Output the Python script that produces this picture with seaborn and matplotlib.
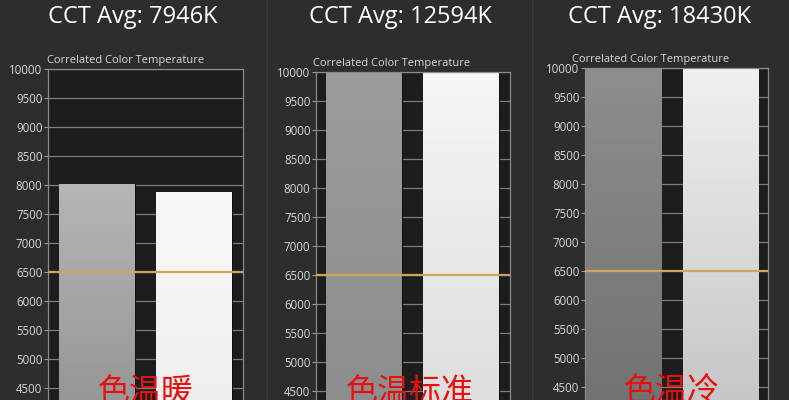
import numpy as np
import pandas as pd
import matplotlib
matplotlib.use("Agg")
import matplotlib.pyplot as plt
import seaborn as sns

# ==========================================
# DATA
# ==========================================

cct_avg = [7946, 12594, 18430]
bar_names = ["A", "B"]
warm_values = [8020, 7872]
standard_values = [12200, 12990]
cool_values = [17800, 19060]
mode_labels = ["色温暖", "色温标准", "色温冷"]
y_ticks = list(range(4500, 10001, 500))
target_cct = 6500

# ==========================================
# STYLE
# ==========================================

sns.set_theme(style="dark")
plt.rcParams["font.family"] = ["Open Sans", "DejaVu Sans"]

W, H = 789, 400
BG = "#2d2d2d"
FACE = "#1d1d1d"
GRID = "#7c7c7c"
TXT = "#d8d8d8"

fig = plt.figure(figsize=(W / 100, H / 100), dpi=100, facecolor=BG)

# pixel layout of each panel: axes left, right, top(10000) / xlim
panels = [
    dict(L=48, R=243, T=69, xlim=(-0.505, 1.505), cap_x=47, title_x=133, lab_x=146,
         grad=[("#b6b6b6", "#8c8c8c"), ("#f8f8f8", "#ececec")]),
    dict(L=316, R=510, T=72, xlim=(-0.495, 1.505), cap_x=313, title_x=400, lab_x=410,
         grad=[("#9c9c9c", "#8a8a8a"), ("#f6f6f6", "#d8d8d8")]),
    dict(L=585, R=768, T=68, xlim=(-0.40, 1.49), cap_x=572, title_x=659, lab_x=672,
         grad=[("#8e8e8e", "#6c6c6c"), ("#f0f0f0", "#bdbdbd")]),
]
all_values = [warm_values, standard_values, cool_values]

px_per_unit = 29 / 500
ymin, ymax = 3000, 10000
ax_h = (ymax - ymin) * px_per_unit

# faint separators between panels
for sx in [267, 533]:
    fig.add_artist(plt.Line2D([sx / W, sx / W], [0, 1], color="#363636", lw=1.5))

for i, p in enumerate(panels):
    bottom_px = p["T"] + ax_h
    ax = fig.add_axes([p["L"] / W, (H - bottom_px) / H, (p["R"] - p["L"]) / W, ax_h / H])
    ax.set_facecolor(FACE)

    df = pd.DataFrame({"name": bar_names, "cct": all_values[i]})
    sns.barplot(data=df, x="name", y="cct", hue="name", palette=["#999999", "#eeeeee"],
                legend=False, width=0.78, ax=ax, edgecolor="#111111", linewidth=0.8,
                zorder=2)

    ax.set_ylim(ymin, ymax)
    ax.set_xlim(*p["xlim"])

    # vertical gradient fill for each bar
    for patch, (c_top, c_bot) in zip(ax.patches, p["grad"]):
        x0 = patch.get_x()
        x1 = x0 + patch.get_width()
        top = min(patch.get_height(), ymax)
        grad = np.linspace(0, 1, 256).reshape(-1, 1)
        cmap = matplotlib.colors.LinearSegmentedColormap.from_list("g", [c_bot, c_top])
        im = ax.imshow(grad, cmap=cmap, extent=[x0, x1, ymin, top], origin="lower",
                       aspect="auto", zorder=2.5)
        im.set_clip_path(patch)

    ax.axhline(target_cct, color="#cfa657", lw=1.6, zorder=4)

    ax.set_yticks(y_ticks)
    ax.set_yticklabels([str(t) for t in y_ticks])
    ax.set_xticks([])
    ax.set_xlabel("")
    ax.set_ylabel("")
    ax.grid(axis="y", color=GRID, lw=0.9, zorder=1)
    ax.set_axisbelow(True)
    ax.tick_params(axis="y", colors=TXT, labelsize=8.3, length=3, width=0.8,
                   left=True, pad=1)
    ax.tick_params(axis="y", color="#9a9a9a")
    for s in ax.spines.values():
        s.set_color("#8a8a8a")
        s.set_linewidth(0.9)

    fig.text(p["cap_x"] / W, (H - p["T"] + 3) / H, "Correlated Color Temperature",
             color=TXT, fontsize=8, ha="left", va="bottom")
    fig.text(p["title_x"] / W, (H - 17) / H, f"CCT Avg: {cct_avg[i]}K",
             color="white", fontsize=17, ha="center", va="center")
    fig.text(p["lab_x"] / W, (H - 376) / H, mode_labels[i], color="#e8100f",
             fontsize=23, ha="center", va="top",
             family=["Noto Sans CJK SC", "DejaVu Sans"])

fig.savefig("out.png", dpi=100, facecolor=BG)
